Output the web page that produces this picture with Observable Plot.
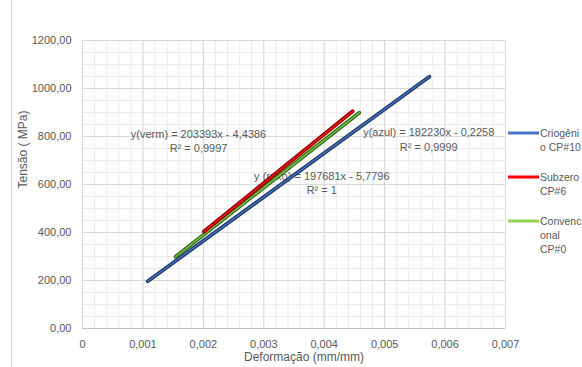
<!DOCTYPE html>
<html>
<head>
<meta charset="utf-8">
<script src="https://cdn.jsdelivr.net/npm/d3@7"></script>
<script src="https://cdn.jsdelivr.net/npm/@observablehq/plot@0.6"></script>
<style>
  html, body { margin: 0; padding: 0; background: #fff; }
  #wrap { position: relative; width: 582px; height: 367px; overflow: hidden; }
  #edge { position: absolute; left: 11px; top: 0; width: 1px; height: 367px; background: #d9d9d9; }
  svg { font-family: "Liberation Sans", Arial, sans-serif; }
</style>
</head>
<body>
<div id="wrap"><div id="edge"></div></div>
<script>
// Tick values
const xTicks = [0, 0.001, 0.002, 0.003, 0.004, 0.005, 0.006, 0.007];
const yTicks = [0, 200, 400, 600, 800, 1000, 1200];

// Series (endpoints); legend names as visible in the picture
const seriesNames = ["Criogêni\no CP#10", "Subzero\nCP#6", "Convenc\nonal\nCP#0"];
const azulX = [0.00108, 0.00574];
const azulY = [197, 1049];
const vermX = [0.00201, 0.00447];
const vermY = [404, 905];
const verdeX = [0.00154, 0.00458];
const verdeY = [299, 899];

// Trendline labels
const labelText = [
  "y(verm) = 203393x - 4,4386\nR² = 0,9997",
  "y (roxo) = 197681x - 5,7796\nR² = 1",
  "y(azul) = 182230x - 0,2258\nR² = 0,9999"
];
const labelX = [0.00192, 0.00396, 0.00573];
const labelY = [783, 608, 790];

const xLabel = "Deformação (mm/mm)";
const yLabel = "Tensão ( MPa)";

const toRows = (xs, ys) => xs.map((x, i) => ({x, y: ys[i]}));
const azul = toRows(azulX, azulY);
const verm = toRows(vermX, vermY);
const verde = toRows(verdeX, verdeY);
const labels = labelText.map((t, i) => ({t, x: labelX[i], y: labelY[i]}));

const xMinor = d3.range(0, 0.00700001, 0.0002);
const yMinor = d3.range(0, 1200.001, 50);

const comma = (v, n) => v.toFixed(n).replace(".", ",");

const chart = Plot.plot({
  width: 582,
  height: 367,
  marginLeft: 82,
  marginRight: 77,
  marginTop: 40,
  marginBottom: 39,
  style: {fontSize: "11px", color: "#595959", background: "transparent"},
  x: {domain: [0, 0.007]},
  y: {domain: [0, 1200]},
  marks: [
    Plot.gridX(xMinor, {stroke: "#ececec", strokeOpacity: 1}),
    Plot.gridY(yMinor, {stroke: "#ececec", strokeOpacity: 1}),
    Plot.gridX(xTicks, {stroke: "#d9d9d9", strokeOpacity: 1}),
    Plot.gridY(yTicks, {stroke: "#d9d9d9", strokeOpacity: 1}),
    Plot.ruleY([0], {stroke: "#bfbfbf"}),
    Plot.axisX(xTicks, {tickSize: 0, tickPadding: 12, label: null, fill: "#595959",
      tickFormat: d => d === 0 ? "0" : comma(d, 3)}),
    Plot.axisY(yTicks, {tickSize: 0, tickPadding: 11, label: null, fill: "#595959",
      tickFormat: d => comma(d, 2)}),
    Plot.text(labels, {x: "x", y: "y", text: "t", fill: "#595959", fontSize: 11, lineHeight: 1.3}),
    Plot.line(azul, {x: "x", y: "y", stroke: "#203864", strokeWidth: 3.8, strokeLinecap: "round"}),
    Plot.line(azul, {x: "x", y: "y", stroke: "#4472c4", strokeWidth: 1.4, strokeLinecap: "round"}),
    Plot.line(verde, {x: "x", y: "y", stroke: "#2f6b1a", strokeWidth: 3.8, strokeLinecap: "round"}),
    Plot.line(verde, {x: "x", y: "y", stroke: "#7cc142", strokeWidth: 1.4, strokeLinecap: "round"}),
    Plot.line(verm, {x: "x", y: "y", stroke: "#8b0000", strokeWidth: 3.8, strokeLinecap: "round"}),
    Plot.line(verm, {x: "x", y: "y", stroke: "#ee1111", strokeWidth: 1.6, strokeLinecap: "round"}),
    Plot.text([xLabel], {frameAnchor: "bottom", dy: 32, dx: 10, fill: "#595959", fontSize: 12}),
    Plot.text([yLabel], {frameAnchor: "left", dx: -59, dy: 4, rotate: -90, fill: "#595959", fontSize: 12})
  ]
});

// Legend (right side)
const legendColors = ["#4472c4", "#ff0000", "#92d050"];
const legendTop = [133, 177, 221];
const svg = d3.select(chart);
const g = svg.append("g").attr("font-size", 10.5).attr("fill", "#595959").attr("text-anchor", "start");
seriesNames.forEach((name, i) => {
  g.append("line").attr("x1", 508).attr("x2", 539)
    .attr("y1", legendTop[i]).attr("y2", legendTop[i])
    .attr("stroke", legendColors[i]).attr("stroke-width", 3);
  const t = g.append("text").attr("x", 540).attr("y", legendTop[i]).attr("text-anchor", "start");
  name.split("\n").forEach((ln, j) => {
    t.append("tspan").attr("x", 540).attr("dy", j === 0 ? "0.35em" : "14px").text(ln);
  });
});

document.getElementById("wrap").appendChild(chart);
</script>
</body>
</html>
